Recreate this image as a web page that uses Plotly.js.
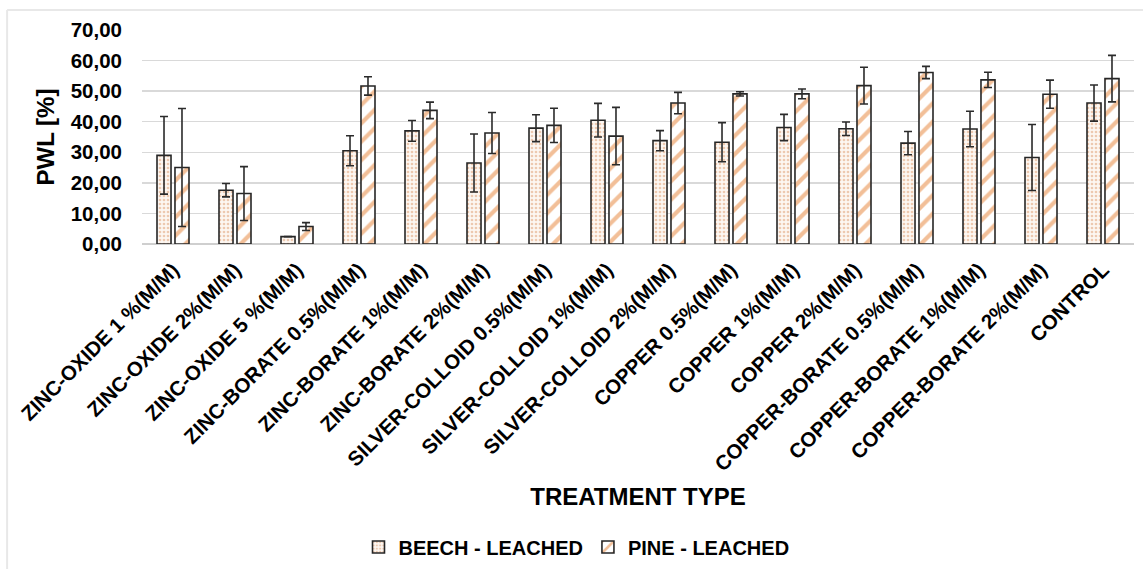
<!DOCTYPE html>
<html>
<head>
<meta charset="utf-8">
<script src="https://cdn.plot.ly/plotly-3.0.1.min.js"></script>
<style>
html,body{margin:0;padding:0;background:#fff;}
#chart{width:1143px;height:569px;}
</style>
</head>
<body>
<div id="chart"></div>
<script>
const categories = [
  "ZINC-OXIDE 1 %(M/M)", "ZINC-OXIDE 2%(M/M)", "ZINC-OXIDE 5 %(M/M)",
  "ZINC-BORATE 0.5%(M/M)", "ZINC-BORATE 1%(M/M)", "ZINC-BORATE 2%(M/M)",
  "SILVER-COLLOID 0.5%(M/M)", "SILVER-COLLOID 1%(M/M)", "SILVER-COLLOID 2%(M/M)",
  "COPPER 0.5%(M/M)", "COPPER 1%(M/M)", "COPPER 2%(M/M)",
  "COPPER-BORATE 0.5%(M/M)", "COPPER-BORATE 1%(M/M)", "COPPER-BORATE 2%(M/M)",
  "CONTROL"
];
const beechValues = [29.0, 17.6, 2.4, 30.5, 37.0, 26.5, 37.9, 40.5, 33.8, 33.3, 38.1, 37.7, 33.0, 37.6, 28.3, 46.1];
const beechErrors = [12.7, 2.2, 0.0, 4.9, 3.4, 9.5, 4.4, 5.5, 3.3, 6.4, 4.3, 2.2, 3.8, 5.8, 10.8, 5.9];
const pineValues  = [25.0, 16.5, 5.7, 51.7, 43.7, 36.3, 38.8, 35.3, 46.1, 49.1, 49.1, 51.8, 56.1, 53.7, 49.0, 54.1];
const pineErrors  = [19.3, 8.8, 1.3, 3.0, 2.7, 6.7, 5.6, 9.4, 3.5, 0.7, 1.6, 6.0, 2.0, 2.5, 4.6, 7.6];
const yTickValues = [0, 10, 20, 30, 40, 50, 60, 70];
const yTickLabels = ["0,00", "10,00", "20,00", "30,00", "40,00", "50,00", "60,00", "70,00"];
const seriesNames = ["BEECH - LEACHED", "PINE - LEACHED"];

const FONT = "Liberation Sans, Arial, sans-serif";
const errStyle = {type: "data", visible: true, color: "#2b2b2b", thickness: 1.6, width: 4};

const traces = [
  {
    type: "bar", name: seriesNames[0], x: categories, y: beechValues,
    error_y: Object.assign({array: beechErrors}, errStyle),
    marker: {
      color: "#fdf5ef",
      line: {color: "#262626", width: 1.6},
      pattern: {shape: ".", fgcolor: "#edc9b0", bgcolor: "#fdf7f2", size: 4, solidity: 0.35}
    }
  },
  {
    type: "bar", name: seriesNames[1], x: categories, y: pineValues,
    error_y: Object.assign({array: pineErrors}, errStyle),
    marker: {
      color: "#ffffff",
      line: {color: "#262626", width: 1.6},
      pattern: {shape: "/", fgcolor: "#f2bf98", bgcolor: "#ffffff", size: 13, solidity: 0.32}
    }
  }
];

const layout = {
  width: 1143, height: 569,
  margin: {l: 142, r: 9, t: 30, b: 325},
  paper_bgcolor: "#ffffff", plot_bgcolor: "#ffffff",
  font: {family: FONT, color: "#000000"},
  barmode: "group", bargap: 0.42, bargroupgap: 0.22,
  showlegend: true,
  legend: {
    orientation: "h", xref: "paper", yref: "container",
    x: 0.438, xanchor: "center", y: 0.0386, yanchor: "middle",
    font: {family: FONT, size: 20, color: "#000000", weight: "bold"},
    itemwidth: 30, tracegroupgap: 0
  },
  xaxis: {
    type: "category", tickangle: -45, automargin: false,
    tickfont: {family: FONT, size: 20.5, color: "#000000", weight: "bold"},
    showgrid: false, showline: false, ticks: "", ticklabelstandoff: 9,
    title: {text: "TREATMENT TYPE", font: {family: FONT, size: 24, color: "#000000", weight: "bold"}, standoff: 13}
  },
  yaxis: {
    range: [0, 70], tickvals: yTickValues, ticktext: yTickLabels, automargin: false,
    tickfont: {family: FONT, size: 20.5, color: "#000000", weight: "bold"},
    showgrid: true, gridcolor: "#d9d9d9", gridwidth: 1.5,
    zeroline: true, zerolinecolor: "#cfcfcf", zerolinewidth: 1.5,
    showline: false, ticks: "", ticklabelstandoff: 19,
    title: {text: "PWL [%]", font: {family: FONT, size: 24, color: "#000000", weight: "bold"}, standoff: 9}
  },
  shapes: [
    {type: "line", xref: "paper", yref: "paper", x0: -0.136, x1: -0.136, y0: 1.0935, y1: -1.6, line: {color: "#e8e8e8", width: 2}},
    {type: "line", xref: "paper", yref: "paper", x0: -0.136, x1: 1.02, y0: 1.0935, y1: 1.0935, line: {color: "#e8e8e8", width: 2}}
  ]
};

Plotly.newPlot("chart", traces, layout, {displayModeBar: false, staticPlot: true});
</script>
</body>
</html>
